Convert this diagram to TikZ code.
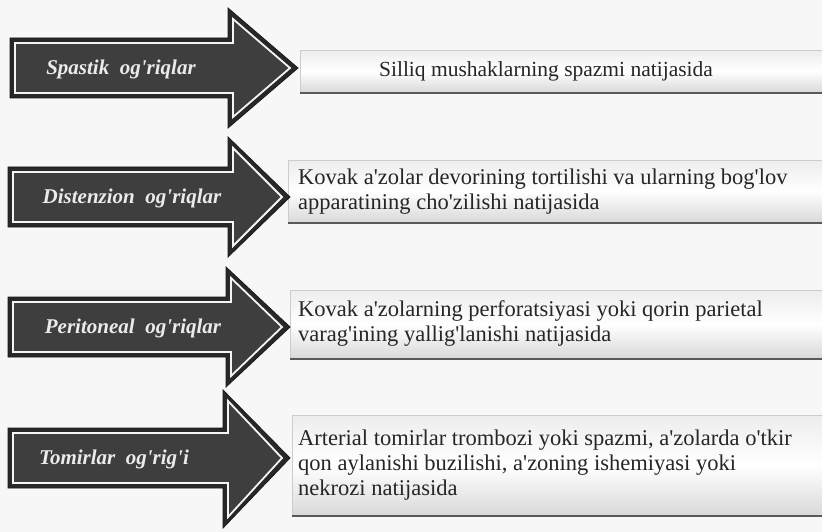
\documentclass[tikz,border=0pt]{standalone}
\usepackage{fontspec}
\setmainfont{Liberation Serif}
\definecolor{arrowfill}{HTML}{3E3E3E}
\definecolor{arrowedge}{HTML}{282828}
\definecolor{pagebg}{HTML}{F7F7F7}
\newcommand\apo{\textquotesingle}
\tikzset{
  painarrow/.style={fill=arrowedge, draw=black!90, line width=0.8pt, line join=miter},
  innerline/.style={fill=arrowfill, draw=white!96!black, line width=1.8pt, line join=miter},
  arrowtext/.style={text=white!92!black, font=\fontsize{21}{24}\selectfont\bfseries\itshape, inner sep=0pt},
  boxshape/.style={draw=gray!40, line width=0.6pt, top color=gray!14, bottom color=gray!30, middle color=white, inner sep=0pt, anchor=north west},
  boxbottom/.style={draw=black!65, line width=2pt},
  boxtext/.style={font=\fontsize{22.5}{25}\selectfont, align=left, anchor=west, inner sep=0pt, text=black!85},
  boxtextone/.style={font=\fontsize{21.5}{25}\selectfont, anchor=center, inner sep=0pt, text=black!85},
}
% #1 xL, #2 yT, #3 yB, #4 xH, #5 yHT, #6 yHB, #7 xA
\newcommand\painarrowdraw[7]{%
  \path[painarrow] (#1,#2) -- (#4,#2) -- (#4,#5) -- (#7,{(#2+#3)/2}) -- (#4,#6) -- (#4,#3) -- (#1,#3) -- cycle;
  \path[innerline] ({#1+5},{#2+5}) -- ({#4+5},{#2+5}) -- ({#4+5},{#5+11}) -- ({#7-8},{(#2+#3)/2}) -- ({#4+5},{#6-11}) -- ({#4+5},{#3-5}) -- ({#1+5},{#3-5}) -- cycle;
}
\begin{document}
\begin{tikzpicture}[x=1pt, y=-1pt]
\useasboundingbox (0,0) rectangle (822,532);
\clip (0,0) rectangle (822,532);
\fill[pagebg] (0,0) rectangle (822,532);

% boxes
\node[boxshape, minimum width=530pt, minimum height=42pt] (b1) at (300,50) {};
\draw[boxbottom] (b1.south west) -- (b1.south east);
\node[boxshape, minimum width=540pt, minimum height=62pt] (b2) at (288,160) {};
\draw[boxbottom] (b2.south west) -- (b2.south east);
\node[boxshape, minimum width=540pt, minimum height=68pt] (b3) at (290,290) {};
\draw[boxbottom] (b3.south west) -- (b3.south east);
\node[boxshape, minimum width=540pt, minimum height=100pt] (b4) at (292,415) {};
\draw[boxbottom] (b4.south west) -- (b4.south east);

% arrows
\painarrowdraw{10}{38}{98}{228}{8}{128}{298}
\painarrowdraw{8}{167}{227}{228}{137}{257}{290}
\painarrowdraw{8}{297}{357}{226}{267}{387}{290}
\painarrowdraw{8}{428}{488}{223}{390}{528}{290}

% arrow labels
\node[arrowtext] (t1) at (121,69) {Spastik\ \ og\apo riqlar};
\node[arrowtext] (t2) at (132,198) {Distenzion\ \ og\apo riqlar};
\node[arrowtext] (t3) at (133,328) {Peritoneal\ \ og\apo riqlar};
\node[arrowtext] (t4) at (114,459) {Tomirlar\ \ og\apo rig\apo i};

% box texts
\node[boxtextone] (d1) at (546,71) {Silliq mushaklarning spazmi natijasida};
\node[boxtext] (d2) at (298,192) {Kovak a\apo zolar devorining tortilishi va ularning bog\apo lov\\apparatining cho\apo zilishi natijasida};
\node[boxtext] (d3) at (298,324) {Kovak a\apo zolarning perforatsiyasi yoki qorin parietal\\varag\apo ining yallig\apo lanishi natijasida};
\node[boxtext] (d4) at (298,465) {Arterial tomirlar trombozi yoki spazmi, a\apo zolarda o\apo tkir\\qon aylanishi buzilishi, a\apo zoning ishemiyasi yoki\\nekrozi natijasida};
\end{tikzpicture}
\end{document}
